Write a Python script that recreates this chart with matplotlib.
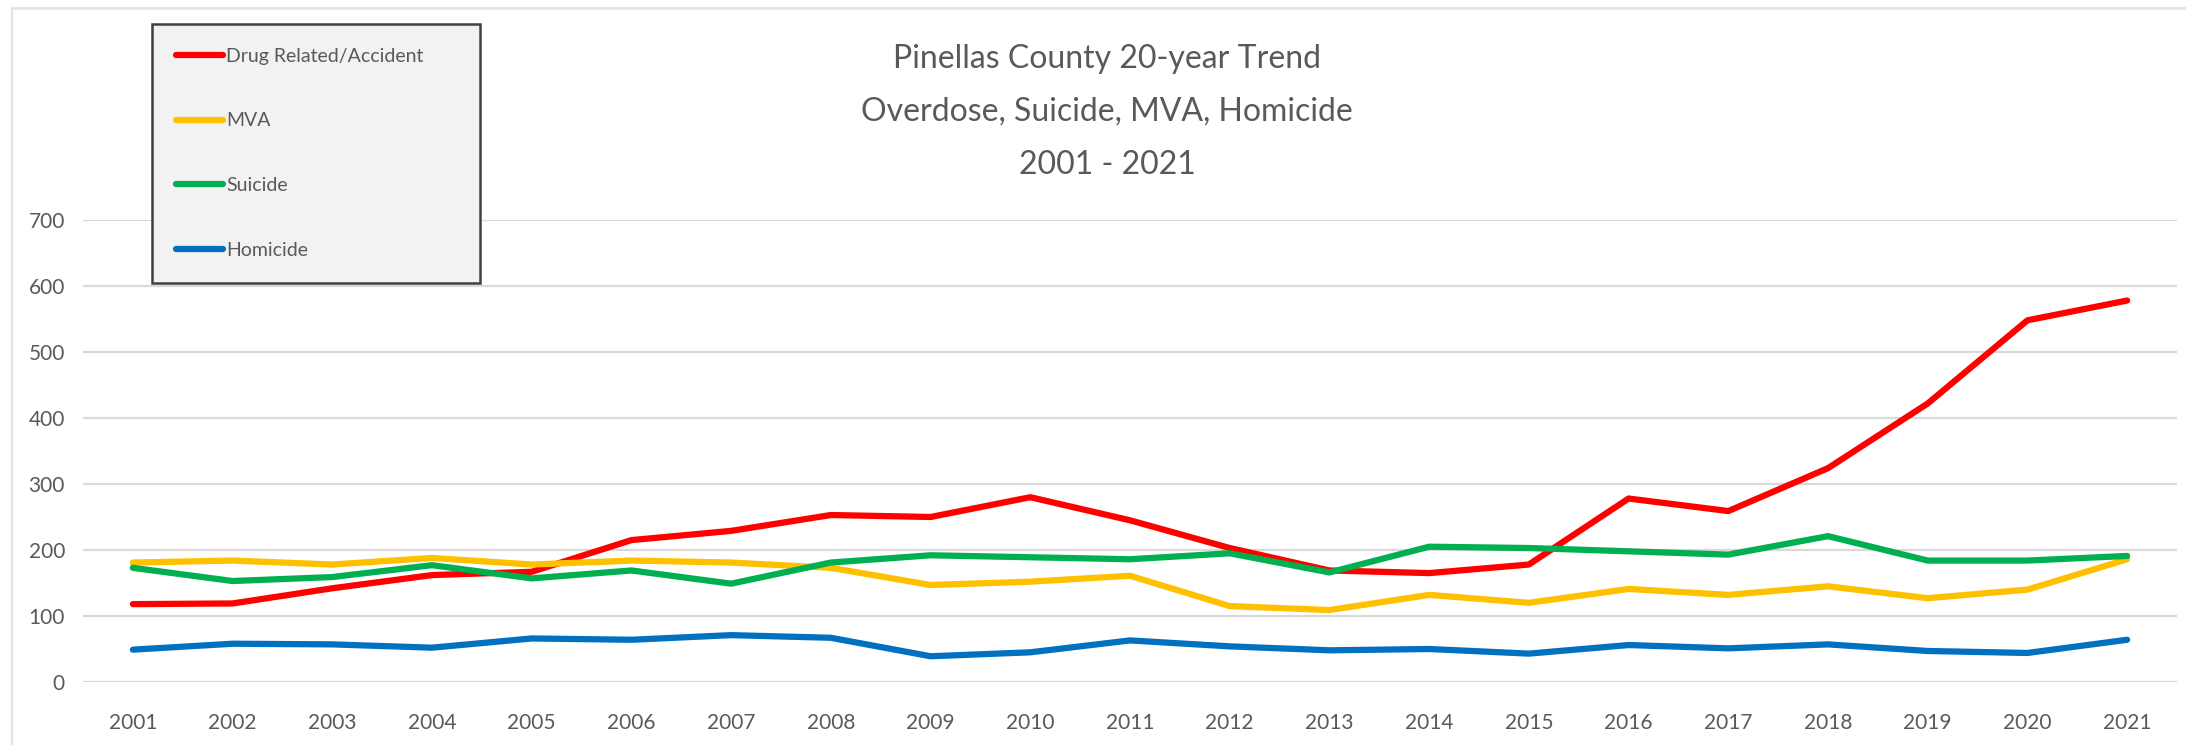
import matplotlib.pyplot as plt
from matplotlib.lines import Line2D

years = list(range(2001, 2022))
drug = [118, 119, 142, 162, 167, 215, 229, 253, 250, 280, 245,
        203, 169, 165, 178, 278, 259, 324, 422, 548, 578]
mva = [181, 184, 178, 188, 178, 184, 181, 173, 147, 152, 161,
       115, 109, 132, 120, 141, 132, 145, 127, 140, 186]
suicide = [173, 153, 159, 177, 157, 169, 149, 181, 192, 189, 186,
           195, 166, 205, 203, 198, 193, 221, 184, 184, 191]
homicide = [49, 58, 57, 52, 66, 64, 71, 67, 39, 45, 63,
            54, 48, 50, 43, 56, 51, 57, 47, 44, 64]

series = [('Drug Related/Accident', drug, '#FF0000'),
          ('MVA', mva, '#FFC000'),
          ('Suicide', suicide, '#00B050'),
          ('Homicide', homicide, '#0070C0')]

plt.rcParams['font.family'] = ['Lato', 'DejaVu Sans']
txt = '#595959'

fig = plt.figure(figsize=(21.86, 7.45), dpi=100)
W, H = 2186, 745
ax = fig.add_axes([83 / W, (H - 682) / H, (2177 - 83) / W, (682 - 220) / H])

x = list(range(len(years)))
for name, vals, color in series:
    ax.plot(x, vals, color=color, lw=4.5, label=name, solid_capstyle='round')

ax.set_xlim(-0.5, len(years) - 0.5)
ax.set_ylim(0, 700)
ax.set_yticks(range(0, 701, 100))
ax.set_xticks(x)
ax.set_xticklabels([str(y) for y in years])
ax.tick_params(length=0, labelsize=15, colors=txt)
ax.tick_params(axis='x', pad=22)
ax.tick_params(axis='y', pad=13)
ax.grid(axis='y', color='#D9D9D9', lw=1.6)
ax.set_axisbelow(True)
for s in ax.spines.values():
    s.set_visible(False)

# outer chart border (top and left visible)
fig.add_artist(Line2D([12 / W, 1], [1 - 8 / H, 1 - 8 / H], color='#E3E3E3', lw=2))
fig.add_artist(Line2D([12 / W, 12 / W], [0, 1 - 8 / H], color='#E3E3E3', lw=1.5))

fig.text(1107 / W, 1 - 44 / H,
         'Pinellas County 20-year Trend\nOverdose, Suicide, MVA, Homicide\n2001 - 2021',
         ha='center', va='top', fontsize=23, color=txt, linespacing=1.95)

leg = ax.legend(loc='upper left', bbox_to_anchor=(152 / W, 1 - 31 / H, (480 - 152) / W, 0.01),
                bbox_transform=fig.transFigure, mode='expand', fontsize=14,
                labelspacing=2.45, handlelength=2.4, handletextpad=0.15,
                borderpad=1.25, borderaxespad=0, frameon=True, fancybox=False,
                shadow=False, labelcolor=txt)
frame = leg.get_frame()
frame.set_facecolor('#F2F2F2')
frame.set_edgecolor('#404040')
frame.set_linewidth(1.8)
frame.set_alpha(1)

fig.savefig('out.png', dpi=100)
